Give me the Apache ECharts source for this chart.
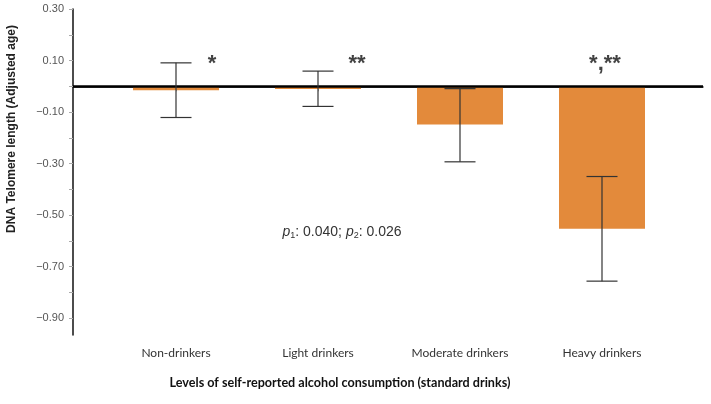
<!DOCTYPE html>
<html>
<head>
<meta charset="utf-8">
<script src="https://cdn.jsdelivr.net/npm/echarts@6/dist/echarts.min.js"></script>
<style>
  html, body { margin: 0; padding: 0; background: #fff; }
  #chart { width: 711px; height: 404px; }
</style>
</head>
<body>
<div id="chart"></div>
<script>
// categories and values
var categories = ['Non-drinkers', 'Light drinkers', 'Moderate drinkers', 'Heavy drinkers'];
var means = [-0.015, -0.01, -0.148, -0.553];
var errLow = [-0.121, -0.078, -0.293, -0.756];
var errHigh = [0.091, 0.059, -0.009, -0.35];
var marks = ['*', '**', '', '*,**'];

var yMin = -0.965, yMax = 0.3;

var chart = echarts.init(document.getElementById('chart'));

function yLabel(v) {
    var k = Math.round(v * 10);
    if (Math.abs(v * 10 - k) > 1e-6 || k % 2 === 0) return '';
    var s = Math.abs(v).toFixed(2);
    return v < 0 ? '\u2212' + s : s;
}

var errData = categories.map(function (c, i) { return [i, errLow[i], errHigh[i]]; });

// marks next to the bars, shifted sideways by label offset
var markShift = [36, 39, 0, 3];
var markData = [];
marks.forEach(function (m, i) {
    if (!m) return;
    markData.push({
        value: [i, 0.085],
        label: { formatter: m, offset: [markShift[i], 0] }
    });
});

var option = {
    animation: false,
    grid: [
        { left: 73, right: 8, top: 9, bottom: 69 },
        { left: 105, right: 38, top: 9, bottom: 69 }
    ],
    xAxis: [
        {
            gridIndex: 0, type: 'value', min: 0, max: 1,
            axisLine: { show: true, lineStyle: { color: '#222', width: 1.5 } },
            axisTick: { show: false }, axisLabel: { show: false }, splitLine: { show: false }
        },
        {
            gridIndex: 1, type: 'category', data: categories,
            axisLine: { show: false },
            axisTick: { show: true, alignWithLabel: true, length: 5, lineStyle: { color: '#aaa' } },
            axisLabel: { color: '#333', fontSize: 12, fontFamily: 'Lato', margin: 12 }
        }
    ],
    yAxis: [
        {
            gridIndex: 0, type: 'value', min: yMin, max: yMax, splitNumber: 12,
            axisLine: { show: true, lineStyle: { color: '#111', width: 1.5 } },
            axisTick: { show: true, length: 4, lineStyle: { color: '#aaa' } },
            axisLabel: { formatter: yLabel, color: '#555', fontSize: 11, fontFamily: 'Liberation Sans', margin: 9, showMinLabel: false },
            splitLine: { show: false }
        },
        { gridIndex: 1, type: 'value', min: yMin, max: yMax, show: false }
    ],
    graphic: [
        {
            type: 'text', x: 12, y: 129, rotation: Math.PI / 2,
            style: {
                text: 'DNA Telomere length (Adjusted age)', fill: '#222',
                font: 'bold 12px "Liberation Sans"', align: 'center', verticalAlign: 'middle'
            }
        },
        {
            type: 'text', x: 340, y: 383,
            style: {
                text: 'Levels of self-reported alcohol consumption (standard drinks)', fill: '#111',
                font: 'bold 12.6px Lato', align: 'center', verticalAlign: 'middle'
            }
        },
        {
            type: 'text', x: 342, y: 232,
            style: {
                text: '{i|p}{s|1}{n|: 0.040; }{i|p}{s|2}{n|: 0.026}',
                align: 'center', verticalAlign: 'middle',
                rich: {
                    i: { fontSize: 14, fontStyle: 'italic', fontFamily: 'Liberation Sans', fill: '#333' },
                    s: { fontSize: 9, fontFamily: 'Liberation Sans', fill: '#333', padding: [8, 0, 0, 0] },
                    n: { fontSize: 14, fontFamily: 'Liberation Sans', fill: '#333' }
                }
            }
        }
    ],
    series: [
        {
            type: 'bar', xAxisIndex: 1, yAxisIndex: 1,
            data: means, barWidth: 86,
            itemStyle: { color: '#E38A3B' },
            silent: true
        },
        {
            type: 'custom', xAxisIndex: 1, yAxisIndex: 1, z: 5,
            data: errData,
            renderItem: function (params, api) {
                var x = api.coord([api.value(0), 0])[0];
                var lo = api.coord([api.value(0), api.value(1)])[1];
                var hi = api.coord([api.value(0), api.value(2)])[1];
                var hw = 15.5;
                var st = { stroke: '#333', lineWidth: 1.2 };
                return {
                    type: 'group',
                    children: [
                        { type: 'line', shape: { x1: x, y1: lo, x2: x, y2: hi }, style: st },
                        { type: 'line', shape: { x1: x - hw, y1: lo, x2: x + hw, y2: lo }, style: st },
                        { type: 'line', shape: { x1: x - hw, y1: hi, x2: x + hw, y2: hi }, style: st }
                    ]
                };
            }
        },
        {
            type: 'scatter', xAxisIndex: 1, yAxisIndex: 1,
            symbolSize: 0, data: markData, silent: true,
            label: { show: true, position: 'inside', color: '#111', fontSize: 22, fontWeight: 'bold', fontFamily: 'Liberation Sans' }
        },
        {
            type: 'line', xAxisIndex: 0, yAxisIndex: 0, data: [], z: 10,
            markLine: {
                silent: true, symbol: 'none', label: { show: false },
                lineStyle: { color: '#000', width: 2.5, type: 'solid' },
                data: [{ yAxis: 0 }]
            }
        }
    ]
};

chart.setOption(option);
</script>
</body>
</html>
